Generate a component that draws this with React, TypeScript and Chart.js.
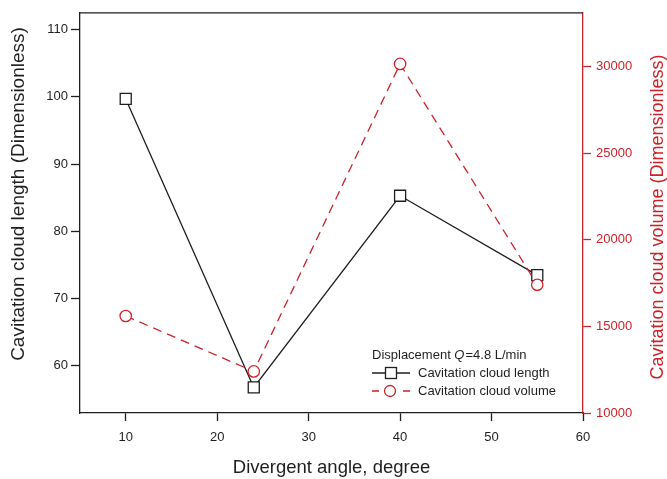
import React, { useEffect, useRef } from "react";
import { Chart, registerables } from "chart.js";

Chart.register(...registerables);

// ---- data ----
const angles = [10, 24, 40, 55];
const cloudLength = [99.7, 56.8, 85.3, 73.5];
const cloudVolume = [15600, 12400, 30150, 17400];
const xTicks = [10, 20, 30, 40, 50, 60];
const lengthTicks = [60, 70, 80, 90, 100, 110];
const volumeTicks = [10000, 15000, 20000, 25000, 30000];

const xTitle = "Divergent angle, degree";
const leftTitle = "Cavitation cloud length (Dimensionless)";
const rightTitle = "Cavitation cloud volume (Dimensionless)";
const lengthLabel = "Cavitation cloud length";
const volumeLabel = "Cavitation cloud volume";

const FONT = "'Liberation Sans', Arial, sans-serif";
const BLACK = "#1e1e1e";
const RED = "#cc2229";

const decor = {
  id: "decor",
  afterDraw(chart: any) {
    const ctx = chart.ctx as CanvasRenderingContext2D;
    const ca = chart.chartArea;
    ctx.save();
    // top frame line
    ctx.strokeStyle = BLACK;
    ctx.lineWidth = 1.3;
    ctx.beginPath();
    ctx.moveTo(ca.left, ca.top);
    ctx.lineTo(ca.right, ca.top);
    ctx.stroke();

    // axis titles
    ctx.textAlign = "center";
    ctx.textBaseline = "middle";
    ctx.fillStyle = BLACK;
    ctx.font = `19px ${FONT}`;
    ctx.save();
    ctx.translate(18.5, 194);
    ctx.rotate(-Math.PI / 2);
    ctx.fillText(leftTitle, 0, 0);
    ctx.restore();

    ctx.fillStyle = RED;
    ctx.font = `18px ${FONT}`;
    ctx.save();
    ctx.translate(658, 217);
    ctx.rotate(-Math.PI / 2);
    ctx.fillText(rightTitle, 0, 0);
    ctx.restore();

    ctx.fillStyle = BLACK;
    ctx.font = `18.5px ${FONT}`;
    ctx.fillText(xTitle, (ca.left + ca.right) / 2, 468);

    // legend
    ctx.textAlign = "left";
    ctx.font = `13px ${FONT}`;
    let x = 372;
    const ty = 355;
    const parts: [string, boolean][] = [["Displacement ", false], ["Q", true], ["=4.8 L/min", false]];
    for (const [t, it] of parts) {
      ctx.font = `${it ? "italic " : ""}13px ${FONT}`;
      ctx.fillText(t, x, ty);
      x += ctx.measureText(t).width + (it ? 1 : 0);
    }
    ctx.font = `13px ${FONT}`;

    // length row
    const y1 = 373;
    ctx.strokeStyle = BLACK;
    ctx.lineWidth = 1.3;
    ctx.beginPath();
    ctx.moveTo(372, y1);
    ctx.lineTo(410, y1);
    ctx.stroke();
    ctx.fillStyle = "#fff";
    ctx.fillRect(385.5, y1 - 5.5, 11, 11);
    ctx.strokeRect(385.5, y1 - 5.5, 11, 11);
    ctx.fillStyle = BLACK;
    ctx.fillText(lengthLabel, 418, y1);

    // volume row
    const y2 = 391;
    ctx.strokeStyle = RED;
    ctx.beginPath();
    ctx.moveTo(372, y2);
    ctx.lineTo(379, y2);
    ctx.moveTo(403, y2);
    ctx.lineTo(410, y2);
    ctx.stroke();
    ctx.beginPath();
    ctx.arc(390, y2, 5.5, 0, Math.PI * 2);
    ctx.fillStyle = "#fff";
    ctx.fill();
    ctx.stroke();
    ctx.fillStyle = BLACK;
    ctx.fillText(volumeLabel, 418, y2);
    ctx.restore();
  },
};

export default function App() {
  const ref = useRef<HTMLCanvasElement | null>(null);
  useEffect(() => {
    if (!ref.current) return;
    const chart = new Chart(ref.current, {
      type: "line",
      data: {
        datasets: [
          {
            label: volumeLabel,
            data: angles.map((a, i) => ({ x: a, y: cloudVolume[i] })),
            yAxisID: "y1",
            borderColor: RED,
            borderWidth: 1.3,
            borderDash: [9, 6],
            pointStyle: "circle",
            pointRadius: 5.7,
            pointBackgroundColor: "#fff",
            pointBorderColor: RED,
            pointBorderWidth: 1.3,
            tension: 0,
          },
          {
            label: lengthLabel,
            data: angles.map((a, i) => ({ x: a, y: cloudLength[i] })),
            yAxisID: "y",
            borderColor: BLACK,
            borderWidth: 1.3,
            pointStyle: "rect",
            pointRadius: 7.8,
            pointBackgroundColor: "#fff",
            pointBorderColor: BLACK,
            pointBorderWidth: 1.3,
            tension: 0,
          },
        ],
      },
      options: {
        responsive: false,
        animation: false,
        layout: { padding: { top: 11, left: 0, right: 0, bottom: 0 } },
        plugins: { legend: { display: false }, tooltip: { enabled: false } },
        scales: {
          x: {
            type: "linear",
            min: 5,
            max: 60,
            afterBuildTicks: (s: any) => {
              s.ticks = xTicks.map((v) => ({ value: v }));
            },
            afterFit: (s: any) => {
              s.height = 66;
            },
            grid: { drawOnChartArea: false, drawTicks: true, tickLength: 8, tickColor: BLACK, tickWidth: 1.3 },
            border: { color: BLACK, width: 1.3 },
            ticks: { color: BLACK, font: { family: FONT, size: 13 }, padding: 9, maxRotation: 0 },
          },
          y: {
            type: "linear",
            position: "left",
            min: 53,
            max: 112.5,
            afterBuildTicks: (s: any) => {
              s.ticks = lengthTicks.map((v) => ({ value: v }));
            },
            afterFit: (s: any) => {
              s.width = 80;
            },
            grid: { drawOnChartArea: false, drawTicks: true, tickLength: 9, tickColor: BLACK, tickWidth: 1.3 },
            border: { color: BLACK, width: 1.3 },
            ticks: { color: BLACK, font: { family: FONT, size: 13 }, padding: 3 },
          },
          y1: {
            type: "linear",
            position: "right",
            min: 10000,
            max: 33100,
            afterBuildTicks: (s: any) => {
              s.ticks = volumeTicks.map((v) => ({ value: v }));
            },
            afterFit: (s: any) => {
              s.width = 84;
            },
            grid: { drawOnChartArea: false, drawTicks: true, tickLength: 8, tickColor: RED, tickWidth: 1.3 },
            border: { color: RED, width: 1.3 },
            ticks: { color: RED, font: { family: FONT, size: 13 }, padding: 5, callback: (v: any) => String(v) },
          },
        },
      },
      plugins: [decor],
    });
    return () => chart.destroy();
  }, []);
  return (
    <div style={{ position: "absolute", left: 0, top: 0, width: 667, height: 479, background: "#fff" }}>
      <canvas ref={ref} width={667} height={479} style={{ display: "block" }} />
    </div>
  );
}
